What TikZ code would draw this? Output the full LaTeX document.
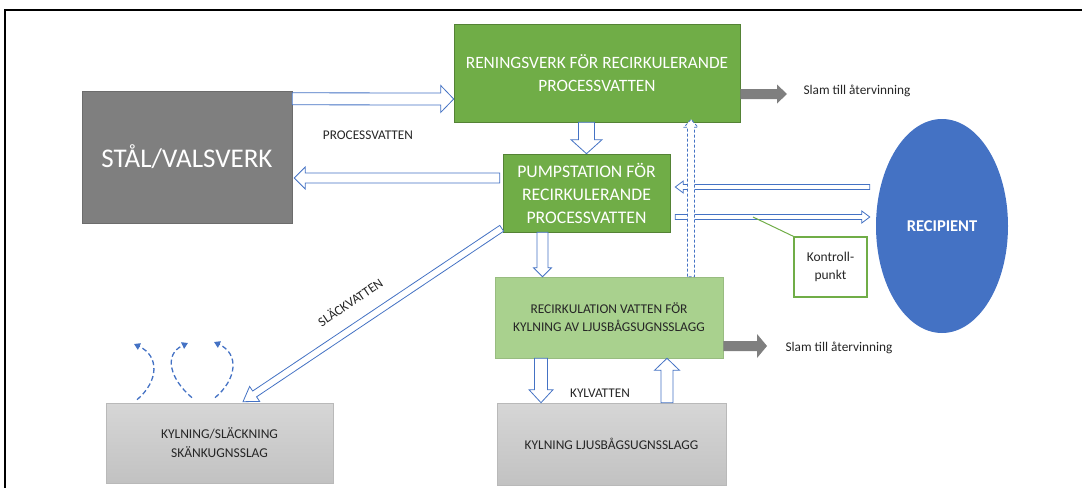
\documentclass[tikz,border=0pt]{standalone}
\usepackage{fontspec}
\setmainfont{Carlito}
\usepackage{tikz}
\usetikzlibrary{calc,shapes.geometric,arrows.meta}
\definecolor{darkgreen}{HTML}{70AD47}
\definecolor{lightgreen}{HTML}{A9D18E}
\definecolor{pipeblue}{HTML}{4472C4}
\definecolor{steelgray}{HTML}{7F7F7F}
\definecolor{txtgray}{HTML}{262626}

\tikzset{
	blockarrow/.style args={#1/#2/#3}{to path={
		($(\tikztostart)!#1!90:(\tikztotarget)$)
		-- ($($(\tikztotarget)!#3!(\tikztostart)$)!#1!90:(\tikztotarget)$)
		-- ($($(\tikztotarget)!#3!(\tikztostart)$)!#2!90:(\tikztotarget)$)
		-- (\tikztotarget)
		-- ($($(\tikztotarget)!#3!(\tikztostart)$)!#2!-90:(\tikztotarget)$)
		-- ($($(\tikztotarget)!#3!(\tikztostart)$)!#1!-90:(\tikztotarget)$)
		-- ($(\tikztostart)!#1!-90:(\tikztotarget)$) -- cycle}},
	pipe/.style={blockarrow=#1, draw=pipeblue, fill=white, line width=0.8pt, line join=miter},
	slam/.style={blockarrow=#1, draw=none, fill=steelgray},
	greenbox/.style={draw=darkgreen!75!black, fill=darkgreen, text=white, align=center, line width=0.6pt},
	lightbox/.style={draw=lightgreen!90!black, fill=lightgreen, text=txtgray, align=center, line width=0.6pt},
	graybox/.style={draw=gray!55, top color=gray!32, bottom color=gray!48, text=txtgray, align=center, line width=0.6pt},
	swirl/.style={pipeblue, line width=1.3pt, dash pattern=on 5pt off 3pt, -{Triangle[length=6pt,width=7pt]}},
	lbl/.style={text=txtgray, font=\fontsize{13.3}{16}\selectfont}
}

\begin{document}
\begin{tikzpicture}[x=1pt,y=1pt]
	\useasboundingbox (0,0) rectangle (1082,-488);
	\draw[line width=1.6pt] (1082,-10) -- (5,-10) -- (5,-488);

	\node[greenbox, minimum width=286pt, minimum height=98pt, font=\fontsize{17.3}{23}\selectfont] (ren) at (597,-73) {RENINGSVERK FÖR RECIRKULERANDE\\PROCESSVATTEN};
	\node[fill=steelgray, draw=steelgray!85!black, text=white, minimum width=210pt, minimum height=132pt, font=\fontsize{27}{30}\selectfont] (stal) at (187,-157) {STÅL/VALSVERK};
	\node[greenbox, minimum width=167pt, minimum height=78pt, font=\fontsize{17.7}{23}\selectfont] (pump) at (586.5,-193) {PUMPSTATION FÖR\\RECIRKULERANDE\\PROCESSVATTEN};
	\node[lightbox, minimum width=228pt, minimum height=81pt, font=\fontsize{13.4}{18}\selectfont] (recirk) at (609,-317.5) {RECIRKULATION VATTEN FÖR\\KYLNING AV LJUSBÅGSUGNSSLAGG};
	\node[graybox, minimum width=229pt, minimum height=82pt, font=\fontsize{13.4}{18}\selectfont] (kyl) at (611.5,-444) {KYLNING LJUSBÅGSUGNSSLAGG};
	\node[graybox, minimum width=227pt, minimum height=80pt, font=\fontsize{13.5}{19}\selectfont] (slack) at (219.5,-443) {KYLNING/SLÄCKNING\\SKÄNKUGNSSLAG};
	\node[ellipse, fill=pipeblue, text=white, minimum width=132pt, minimum height=214pt, inner sep=0pt, font=\bfseries\fontsize{16.5}{19}\selectfont] (recip) at (942,-226) {RECIPIENT};
	\node[draw=darkgreen, line width=1.4pt, fill=white, align=center, minimum width=73pt, minimum height=60pt, text=txtgray, font=\fontsize{13.5}{18}\selectfont] (kontroll) at (830.5,-267) {Kontroll-\\punkt};

	\node[lbl, anchor=west] (slam1) at (800,-91) {Slam till återvinning};
	\node[lbl, anchor=west] (slam2) at (782,-348) {Slam till återvinning};
	\node[lbl] (procv) at (368,-135) {PROCESSVATTEN};
	\node[lbl] (kylv) at (600,-393) {KYLVATTEN};
	\node[lbl, rotate=34] (slv) at (350,-302) {SLÄCKVATTEN};

	\draw[pipe=6pt/13.5pt/13pt] ([yshift=-8pt]stal.north east) to ([yshift=-26pt]ren.west);
	\draw[pipe=5pt/11pt/11pt] ([xshift=-3pt,yshift=15pt]pump.west) to ([xshift=2pt,yshift=-21pt]stal.east);
	\draw[pipe=8pt/15.5pt/14pt] (pump.north |- ren.south) to (pump.north);
	\draw[pipe=5.5pt/9pt/9pt] ([xshift=-44pt]pump.south) to ([xshift=-44pt]pump.south |- recirk.north);
	\draw[pipe=2.5pt/6pt/8pt] ([xshift=-6pt,yshift=39pt]recip.west) to ([xshift=5pt,yshift=6pt]pump.east);
	\draw[pipe=2.5pt/6pt/8pt] ([xshift=5pt,yshift=-24pt]pump.east) to ([xshift=-6pt,yshift=9pt]recip.west);
	\draw[pipe=3.5pt/7pt/8pt, dash pattern=on 3pt off 2pt] ([xshift=82pt]recirk.north) to ([xshift=82pt,yshift=3pt]recirk.north |- ren.south);
	\draw[pipe=3.5pt/9pt/14pt] ([xshift=-1pt,yshift=4pt]pump.south west) to ([xshift=23.5pt,yshift=1pt]slack.north);
	\draw[pipe=6.5pt/12pt/13pt] ([xshift=-68pt]recirk.south) to ([xshift=-68pt]recirk.south |- kyl.north);
	\draw[pipe=6pt/12.5pt/12pt] ([xshift=55.5pt]kyl.north) to ([xshift=55.5pt]kyl.north |- recirk.south);

	\fill[slam=5pt/9.5pt/10pt] ([yshift=-21pt]ren.east) to ([xshift=-13pt,yshift=-3pt]slam1.west);
	\fill[slam=5pt/12pt/10pt] ([yshift=-28.5pt]recirk.east) to ([xshift=-15pt,yshift=2pt]slam2.west);

	\coordinate (kp) at (753,-217);
	\draw[darkgreen, line width=1pt] (kp) -- (kontroll.north west);

	\coordinate (t1) at (134,-344);
	\coordinate (t2) at (188,-343);
	\coordinate (t3) at (214,-342);
	\draw[swirl] ([xshift=-82.5pt,yshift=3pt]slack.north) to[out=40,in=-25,looseness=1.3] (t1);
	\draw[swirl] ([xshift=-27.5pt,yshift=5pt]slack.north) to[out=140,in=-155,looseness=1.3] (t2);
	\draw[swirl] ([xshift=-4.5pt,yshift=5pt]slack.north) to[out=40,in=-25,looseness=1.3] (t3);
\end{tikzpicture}
\end{document}
